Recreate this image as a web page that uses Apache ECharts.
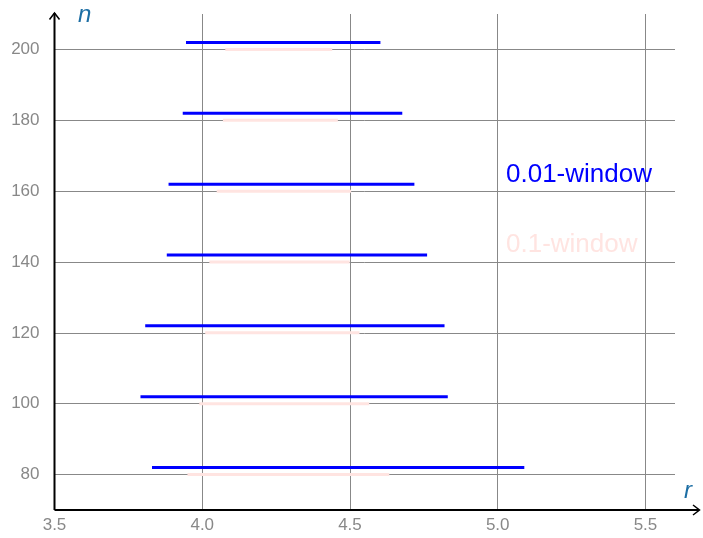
<!DOCTYPE html>
<html><head><meta charset="utf-8">
<script src="https://cdn.jsdelivr.net/npm/echarts@6/dist/echarts.min.js"></script>
<style>html,body{margin:0;padding:0;background:#fff}#c{width:703px;height:538px}</style>
</head><body><div id="c"></div>
<script>
// data
const nValues = [80, 100, 120, 140, 160, 180, 200];
const win001Lo = [3.830, 3.791, 3.807, 3.880, 3.886, 3.934, 3.945];
const win001Hi = [5.090, 4.831, 4.820, 4.761, 4.718, 4.677, 4.603];
const win01Lo  = [3.950, 3.990, 4.010, 4.024, 4.049, 4.070, 4.078];
const win01Hi  = [4.633, 4.565, 4.532, 4.499, 4.504, 4.459, 4.440];
const xTicks = [3.5, 4.0, 4.5, 5.0, 5.5];
const yTicks = [80, 100, 120, 140, 160, 180, 200];
const legendLabels = ['0.01-window', '0.1-window'];

const BLUE = '#0000ff', PINK = '#ffe4e1';
const FONT = '"Liberation Sans", Arial, Helvetica, sans-serif';

function segSeries(name, lo, hi, color, dy, z) {
  return {
    type: 'custom', name: name, z: z,
    data: nValues.map((n, i) => [lo[i], hi[i], n]),
    renderItem: function (params, api) {
      const a = api.coord([api.value(0), api.value(2)]);
      const b = api.coord([api.value(1), api.value(2)]);
      return {
        type: 'line',
        shape: { x1: a[0], y1: a[1] + dy, x2: b[0], y2: b[1] + dy },
        style: { stroke: color, lineWidth: 3 }
      };
    }
  };
}

const chart = echarts.init(document.getElementById('c'));
chart.setOption({
  animation: false,
  grid: { left: 54.5, right: 28, top: 14, bottom: 28, containLabel: false },
  xAxis: {
    type: 'value', min: 3.5, max: 5.6, interval: 0.5,
    axisLine: { show: false },
    axisTick: { show: false, customValues: xTicks },
    splitLine: { show: true, lineStyle: { color: '#888', width: 1 } },
    axisLabel: {
      color: '#888', fontSize: 17, fontFamily: FONT, margin: 7,
      customValues: xTicks,
      formatter: v => v.toFixed(1)
    }
  },
  yAxis: {
    type: 'value', min: 70, max: 210, interval: 10,
    axisLine: { show: false },
    axisTick: { show: false, customValues: yTicks },
    splitLine: { show: true, lineStyle: { color: '#888', width: 1 } },
    axisLabel: {
      color: '#888', fontSize: 17, fontFamily: FONT, margin: 15,
      customValues: yTicks,
      formatter: v => String(v)
    }
  },
  series: [
    segSeries(legendLabels[1], win01Lo, win01Hi, PINK, 0, 2),
    segSeries(legendLabels[0], win001Lo, win001Hi, BLUE, -7, 3)
  ],
  graphic: [
    { type: 'polyline', z: 10, shape: { points: [[54.5, 510], [699, 510]] }, style: { stroke: '#000', lineWidth: 2, fill: null } },
    { type: 'polyline', z: 10, shape: { points: [[693, 505], [699.5, 510], [693, 515]] }, style: { stroke: '#000', lineWidth: 1.5, fill: null } },
    { type: 'polyline', z: 10, shape: { points: [[54.5, 510], [54.5, 13]] }, style: { stroke: '#000', lineWidth: 2, fill: null } },
    { type: 'polyline', z: 10, shape: { points: [[49.5, 19.5], [54.5, 13], [59.5, 19.5]] }, style: { stroke: '#000', lineWidth: 1.5, fill: null } },
    { type: 'text', z: 10, x: 78, y: 15, style: { text: 'n', fill: '#1c6ea4', font: 'italic 24px ' + FONT, verticalAlign: 'middle' } },
    { type: 'text', z: 10, x: 684, y: 491, style: { text: 'r', fill: '#1c6ea4', font: 'italic 24px ' + FONT, verticalAlign: 'middle' } },
    { type: 'text', z: 10, x: 506, y: 175, style: { text: legendLabels[0], fill: BLUE, font: '26px ' + FONT, verticalAlign: 'middle' } },
    { type: 'text', z: 10, x: 506, y: 245, style: { text: legendLabels[1], fill: PINK, font: '26px ' + FONT, verticalAlign: 'middle' } }
  ]
});
</script></body></html>
